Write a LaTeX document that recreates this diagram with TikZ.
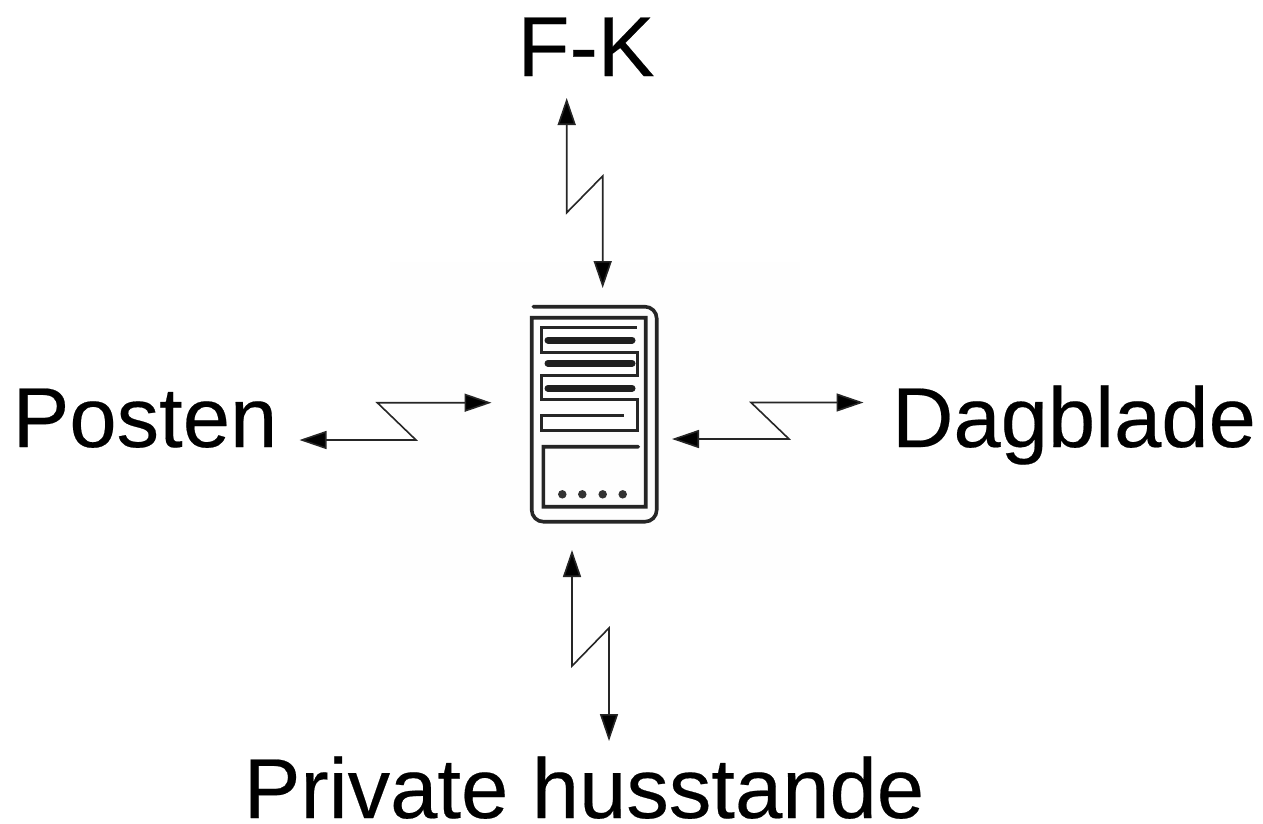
\documentclass[tikz,border=0pt]{standalone}
\usepackage{fontspec}
\setmainfont[FakeBold=0.25]{Liberation Sans}
\usetikzlibrary{arrows.meta}
\tikzset{
  label text/.style={anchor=base,inner sep=0pt,font=\fontsize{85}{90}\selectfont,text=black},
  link/.style={draw=black!85,line width=1.6pt,line join=miter,{Triangle[length=27pt,width=18pt,fill=black]}-{Triangle[length=27pt,width=18pt,fill=black]}},
  srv/.style={draw=black!85,line width=3.6pt,line join=miter},
  srvbar/.style={draw=black!88,line width=7pt,line cap=round},
  srvdot/.style={fill=black!80,draw=none,circle,minimum size=8.5pt,inner sep=0pt}
}
\begin{document}
\begin{tikzpicture}[x=1pt,y=-1pt]
\useasboundingbox (0,0) rectangle (1263,823);
\fill[black!0.4] (390,262) rectangle (800,580);
% labels
\node[label text] (fk) at (586,76) {F-K};
\node[label text] (posten) at (145,447) {Posten};
\node[label text] (dagblade) at (1074,447) {Dagblade};
\node[label text] (private) at (584,818) {Private husstande};
% server icon
\draw[srv,line cap=round] (533.3,306.7) -- (645,306.7) arc[start angle=-90,end angle=0,radius=11.7] -- (656.7,510) arc[start angle=0,end angle=90,radius=11.7] -- (543.4,521.7) arc[start angle=90,end angle=180,radius=11.7] -- (531.7,317.7) -- (645.7,317.7) -- (645.7,506.7) -- (543.3,506.7) -- (543.3,446.7) -- (638.3,446.7);
\draw[srv,line width=3pt] (636.7,327.3) -- (541.7,327.3) -- (541.7,352.3) -- (637.3,352.3) -- (637.3,375.7) -- (541.7,375.7) -- (541.7,399) -- (637.3,399) -- (637.3,430.7) -- (541.7,430.7) -- (541.7,415.7) -- (624.3,415.7);
\draw[srvbar] (548,340) -- (632,340);
\draw[srvbar] (548,363.3) -- (632,363.3);
\draw[srvbar] (548,388.3) -- (632,388.3);
\node[srvdot] (d1) at (562.3,494.3) {};
\node[srvdot] (d2) at (582.3,494.3) {};
\node[srvdot] (d3) at (602.7,494.3) {};
\node[srvdot] (d4) at (622.7,494.3) {};
% connector points
\coordinate (ta) at (566.7,98);
\coordinate (tb) at (566.7,212.7);
\coordinate (tc) at (602.7,176);
\coordinate (td) at (602.7,288);
\coordinate (la) at (299.5,440);
\coordinate (lb) at (416,440);
\coordinate (lc) at (377.3,402.7);
\coordinate (ld) at (491.5,402.7);
\coordinate (ra) at (672,439);
\coordinate (rb) at (789,439);
\coordinate (rc) at (751,402.5);
\coordinate (rd) at (863.5,402.5);
\coordinate (ba) at (572,550);
\coordinate (bb) at (572,666);
\coordinate (bc) at (609,628);
\coordinate (bd) at (609,741);
\draw[link] (ta) -- (tb) -- (tc) -- (td);
\draw[link] (la) -- (lb) -- (lc) -- (ld);
\draw[link] (ra) -- (rb) -- (rc) -- (rd);
\draw[link] (ba) -- (bb) -- (bc) -- (bd);
\end{tikzpicture}
\end{document}
